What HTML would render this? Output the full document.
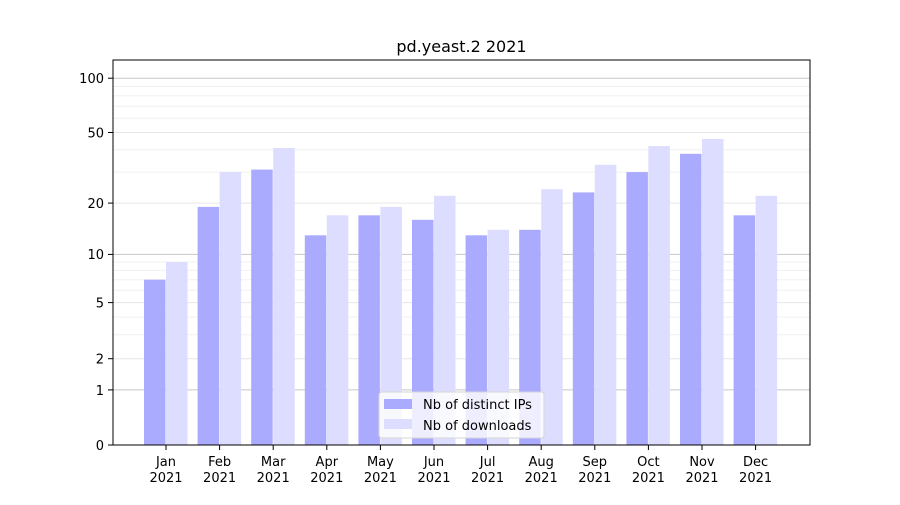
<!DOCTYPE html><html><head><style>body{margin:0;background:#fff}</style></head><body>
<svg width="900" height="500" xmlns="http://www.w3.org/2000/svg" font-family="DejaVu Sans, Liberation Sans, sans-serif" font-size="13">
<rect width="900" height="500" fill="#fff"/>
<g stroke="#f0f0f0" stroke-width="1">
<line x1="113" x2="810" y1="334.8" y2="334.8"/><line x1="113" x2="810" y1="317.1" y2="317.1"/>
<line x1="113" x2="810" y1="290.3" y2="290.3"/><line x1="113" x2="810" y1="279.7" y2="279.7"/>
<line x1="113" x2="810" y1="270.4" y2="270.4"/><line x1="113" x2="810" y1="262" y2="262"/>
<line x1="113" x2="810" y1="172.1" y2="172.1"/><line x1="113" x2="810" y1="149.8" y2="149.8"/>
<line x1="113" x2="810" y1="118.3" y2="118.3"/><line x1="113" x2="810" y1="106.2" y2="106.2"/>
<line x1="113" x2="810" y1="95.8" y2="95.8"/><line x1="113" x2="810" y1="86.5" y2="86.5"/>
</g>
<g stroke="#e6e6e6" stroke-width="1">
<line x1="113" x2="810" y1="358.7" y2="358.7"/><line x1="113" x2="810" y1="302.6" y2="302.6"/>
<line x1="113" x2="810" y1="203.1" y2="203.1"/><line x1="113" x2="810" y1="132.5" y2="132.5"/>
</g>
<g stroke="#c8c8c8" stroke-width="1">
<line x1="113" x2="810" y1="389.9" y2="389.9"/><line x1="113" x2="810" y1="254.4" y2="254.4"/>
<line x1="113" x2="810" y1="78.2" y2="78.2"/>
</g>
<g fill="#aaaaff">
<rect x="144" y="279.7" width="21.5" height="165.3"/>
<rect x="197.6" y="206.9" width="21.5" height="238.1"/>
<rect x="251.2" y="169.6" width="21.5" height="275.4"/>
<rect x="304.8" y="235.3" width="21.5" height="209.7"/>
<rect x="358.4" y="215.3" width="21.5" height="229.7"/>
<rect x="412" y="219.8" width="21.5" height="225.2"/>
<rect x="465.6" y="235.3" width="21.5" height="209.7"/>
<rect x="519.2" y="229.8" width="21.5" height="215.2"/>
<rect x="572.8" y="192.4" width="21.5" height="252.6"/>
<rect x="626.4" y="172.1" width="21.5" height="272.9"/>
<rect x="680" y="153.8" width="21.5" height="291.2"/>
<rect x="733.6" y="215.3" width="21.5" height="229.7"/>
</g>
<g fill="#ddddff">
<rect x="166" y="262" width="21.5" height="183"/>
<rect x="219.6" y="172.1" width="21.5" height="272.9"/>
<rect x="273.2" y="148" width="21.5" height="297"/>
<rect x="326.8" y="215.3" width="21.5" height="229.7"/>
<rect x="380.4" y="206.9" width="21.5" height="238.1"/>
<rect x="434" y="195.8" width="21.5" height="249.2"/>
<rect x="487.6" y="229.8" width="21.5" height="215.2"/>
<rect x="541.2" y="189.2" width="21.5" height="255.8"/>
<rect x="594.8" y="164.8" width="21.5" height="280.2"/>
<rect x="648.4" y="146.1" width="21.5" height="298.9"/>
<rect x="702" y="139" width="21.5" height="306"/>
<rect x="755.6" y="195.8" width="21.5" height="249.2"/>
</g>
<rect x="113" y="60" width="697" height="385" fill="none" stroke="#000" stroke-width="1"/>
<g stroke="#000">
<line x1="108" x2="113" y1="445" y2="445"/><line x1="108" x2="113" y1="389.9" y2="389.9"/>
<line x1="108" x2="113" y1="358.7" y2="358.7"/><line x1="108" x2="113" y1="302.6" y2="302.6"/>
<line x1="108" x2="113" y1="254.4" y2="254.4"/><line x1="108" x2="113" y1="203.1" y2="203.1"/>
<line x1="108" x2="113" y1="132.5" y2="132.5"/><line x1="108" x2="113" y1="78.2" y2="78.2"/>
<line x1="166" x2="166" y1="445" y2="450"/><line x1="219.6" x2="219.6" y1="445" y2="450"/>
<line x1="273.2" x2="273.2" y1="445" y2="450"/><line x1="326.8" x2="326.8" y1="445" y2="450"/>
<line x1="380.4" x2="380.4" y1="445" y2="450"/><line x1="434" x2="434" y1="445" y2="450"/>
<line x1="487.6" x2="487.6" y1="445" y2="450"/><line x1="541.2" x2="541.2" y1="445" y2="450"/>
<line x1="594.8" x2="594.8" y1="445" y2="450"/><line x1="648.4" x2="648.4" y1="445" y2="450"/>
<line x1="702" x2="702" y1="445" y2="450"/><line x1="755.6" x2="755.6" y1="445" y2="450"/>
</g>
<g text-anchor="end" fill="#000">
<text x="104" y="450">0</text><text x="104" y="395">1</text><text x="104" y="363.5">2</text>
<text x="104" y="307.5">5</text><text x="104" y="259">10</text><text x="104" y="208">20</text>
<text x="104" y="137.5">50</text><text x="104" y="83">100</text>
</g>
<g text-anchor="middle" fill="#000">
<text x="166" y="466">Jan</text><text x="166" y="482">2021</text>
<text x="219.6" y="466">Feb</text><text x="219.6" y="482">2021</text>
<text x="273.2" y="466">Mar</text><text x="273.2" y="482">2021</text>
<text x="326.8" y="466">Apr</text><text x="326.8" y="482">2021</text>
<text x="380.4" y="466">May</text><text x="380.4" y="482">2021</text>
<text x="434" y="466">Jun</text><text x="434" y="482">2021</text>
<text x="487.6" y="466">Jul</text><text x="487.6" y="482">2021</text>
<text x="541.2" y="466">Aug</text><text x="541.2" y="482">2021</text>
<text x="594.8" y="466">Sep</text><text x="594.8" y="482">2021</text>
<text x="648.4" y="466">Oct</text><text x="648.4" y="482">2021</text>
<text x="702" y="466">Nov</text><text x="702" y="482">2021</text>
<text x="755.6" y="466">Dec</text><text x="755.6" y="482">2021</text>
<text x="461.5" y="52" font-size="16">pd.yeast.2 2021</text>
</g>
<rect x="379" y="392" width="165" height="46" rx="3" fill="#fff" fill-opacity="0.8" stroke="#d6d6d6"/>
<rect x="384" y="399" width="28" height="10" fill="#aaaaff"/>
<rect x="384" y="419" width="28" height="10" fill="#ddddff"/>
<text x="423" y="409" fill="#000">Nb of distinct IPs</text>
<text x="423" y="430" fill="#000">Nb of downloads</text>
</svg>
</body></html>
